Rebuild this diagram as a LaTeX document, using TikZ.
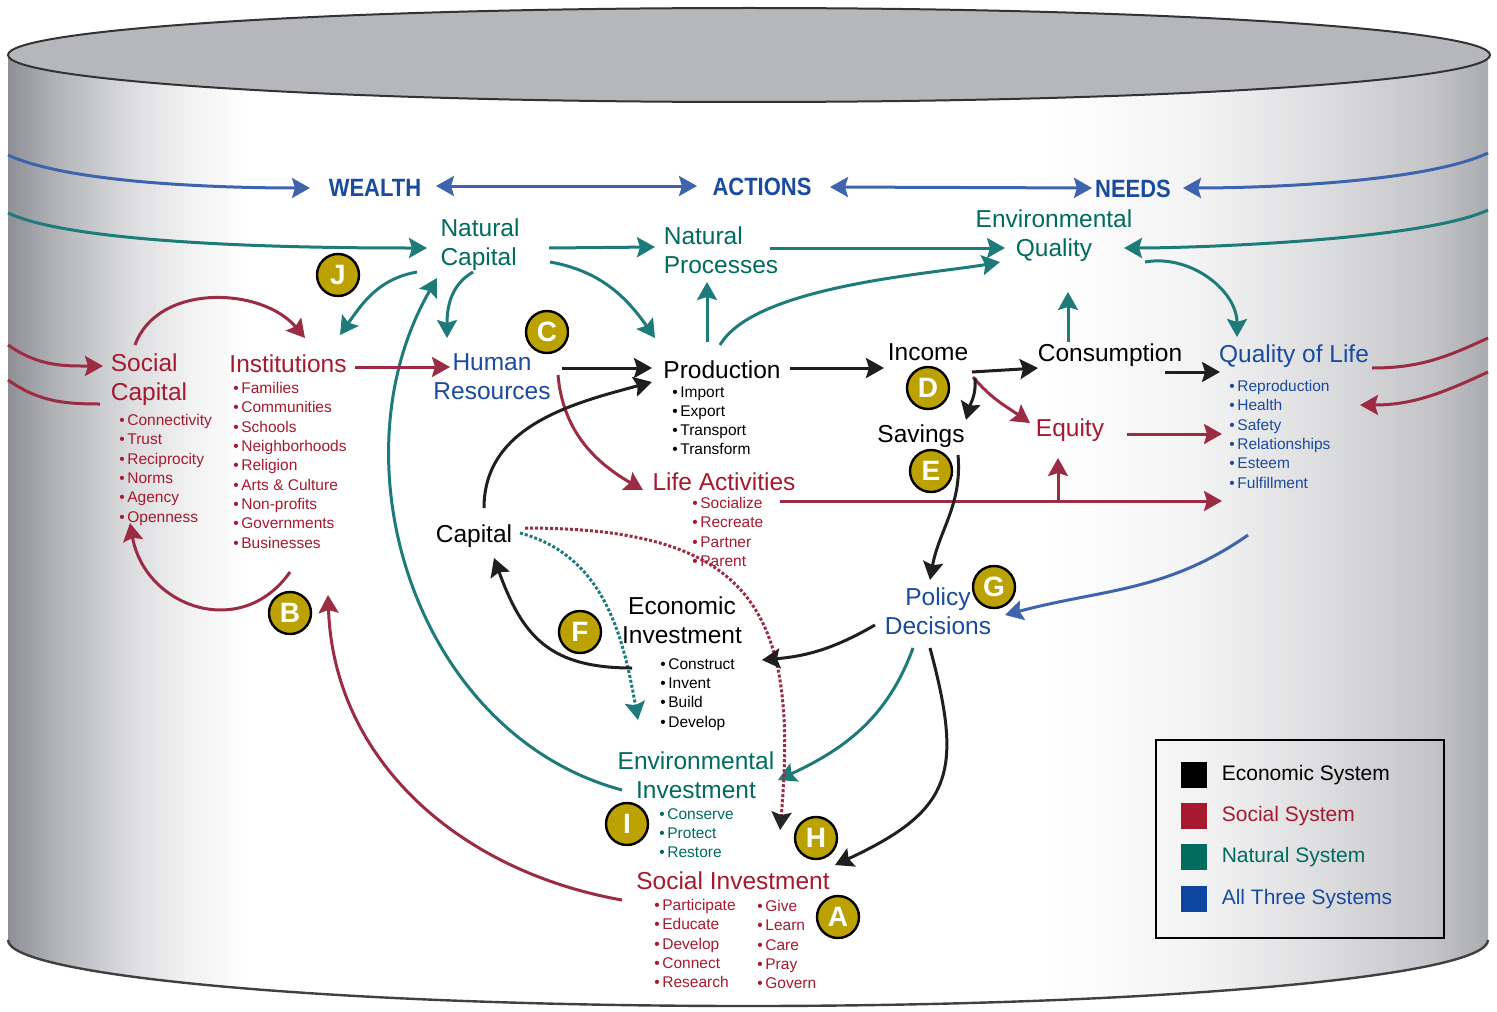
\documentclass[tikz,border=0pt]{standalone}
\usepackage{fontspec}
\usepackage{graphicx}
\setmainfont{Liberation Sans}
\usetikzlibrary{arrows.meta,calc,positioning}

\definecolor{socred}{HTML}{A6192E}
\definecolor{socline}{HTML}{9B2C43}
\definecolor{natgreen}{HTML}{006B5F}
\definecolor{natline}{HTML}{1D7B7A}
\definecolor{allblue}{HTML}{1A4B9E}
\definecolor{allline}{HTML}{3E64AE}
\definecolor{keyblue}{HTML}{0D45A0}
\definecolor{badgegold}{HTML}{BBA200}
\definecolor{drumtop}{HTML}{B6B7BB}
\definecolor{drumL}{HTML}{8F9197}
\definecolor{drumR}{HTML}{A9AAAF}

\newcommand{\blt}{\textbullet\,}

\tikzset{
  >={Stealth[length=9pt,width=10pt,inset=1.5pt]},
  flow/.style={line width=1.5pt, ->},
  eco/.style={flow, draw=black!88},
  soc/.style={flow, draw=socline},
  nat/.style={flow, draw=natline},
  allsys/.style={flow, draw=allline},
  wrapsoc/.style={line width=1.5pt, draw=socline},
  twoway/.style={<->},
  dots/.style={dash pattern=on 1.5pt off 1pt},
  lbl/.style={inner sep=0pt, font=\fontsize{12.25}{14.5}\selectfont, align=center},
  lst/.style={inner sep=0pt, anchor=north west, align=left, font=\fontsize{7.75}{9.65}\selectfont},
  hdr/.style={inner sep=0pt, text=allblue, font=\fontsize{12.5}{14}\selectfont\bfseries},
  badge/.style={circle, draw=black, line width=1.2pt, fill=badgegold, text=white, minimum size=21pt, inner sep=0pt, font=\fontsize{14}{14}\selectfont\bfseries},
  key/.style={minimum size=13pt, inner sep=0pt},
  keytxt/.style={inner sep=0pt, anchor=west, font=\fontsize{10.5}{12}\selectfont},
}

\begin{document}
\begin{tikzpicture}[x=0.5pt, y=-0.5pt]
  \useasboundingbox (0,0) rectangle (1497,1011);
  \fill[white] (0,0) rectangle (1497,1011);

  % the drum, shaded in thin strips
  \begin{scope}
    \clip (8,55) -- (8,940) arc[start angle=180, end angle=360, x radius=370pt, y radius=33pt] -- (1488,55) -- cycle;
    \foreach \x in {8,12,...,252}{
      \pgfmathtruncatemacro{\p}{(\x<60) ? 100-(\x-8)/52*34 : ((\x<130) ? 66-(\x-60)/70*35 : ((\x<190) ? 31-(\x-130)/60*19 : max(0,12-(\x-190)/60*12)))}
      \fill[drumL!\p!white] (\x,40) rectangle (\x+5,1010);
    }
    \foreach \x in {1040,1044,...,1488}{
      \pgfmathtruncatemacro{\q}{(\x>1430) ? 69+(\x-1430)/58*31 : ((\x>1320) ? 40+(\x-1320)/110*29 : ((\x>1200) ? 15+(\x-1200)/120*25 : (\x-1040)/160*15))}
      \fill[drumR!\q!white] (\x,40) rectangle (\x+5,1010);
    }
  \end{scope}
  \draw[black!75, line width=1.2pt] (8,940) arc[start angle=180, end angle=360, x radius=370pt, y radius=33pt];
  \filldraw[fill=drumtop, draw=black!80, line width=1pt] (749,55) ellipse [x radius=370.5pt, y radius=23.5pt];

  % headings
  \node[hdr] (wealth) at (375,188) {\scalebox{0.88}[1]{WEALTH}};
  \node[hdr] (actions) at (762,187) {\scalebox{0.88}[1]{ACTIONS}};
  \node[hdr] (needs) at (1133,189) {\scalebox{0.88}[1]{NEEDS}};

  % stocks and flows
  \node[lbl, text=natgreen, align=left] (nc) at (480,245) {Natural\\Capital};
  \node[lbl, text=natgreen, align=left] (np) at (721,250) {Natural\\Processes};
  \node[lbl, text=natgreen] (eq) at (1054,236) {Environmental\\Quality};
  \node[lbl, text=socred, align=left] (sc) at (149,380) {Social\\Capital};
  \node[lbl, text=socred] (inst) at (288,364) {Institutions};
  \node[lbl, text=allblue] (hr) at (492,377) {Human\\Resources};
  \node[lbl] (prod) at (722,370) {Production};
  \node[lbl] (inc) at (928,352) {Income};
  \node[lbl] (cons) at (1110,355) {Consumption};
  \node[lbl, text=allblue] (qol) at (1294,356) {Quality of Life};
  \node[lbl] (sav) at (921,436) {Savings};
  \node[lbl, text=socred] (equ) at (1070,430) {Equity};
  \node[lbl, text=socred] (la) at (724,482) {Life Activities};
  \node[lbl] (cap) at (474,536) {Capital};
  \node[lbl] (ei) at (682,620) {Economic\\Investment};
  \node[lbl, text=allblue] (pd) at (938,611) {Policy\\Decisions};
  \node[lbl, text=natgreen] (env) at (696,775) {Environmental\\Investment};
  \node[lbl, text=socred] (si) at (733,881) {Social Investment};

  % bullet lists
  \node[lst, text=socred] (sclist) at (119,414) {\blt Connectivity\\\blt Trust\\\blt Reciprocity\\\blt Norms\\\blt Agency\\\blt Openness};
  \node[lst, text=socred] (inlist) at (233,382) {\blt Families\\\blt Communities\\\blt Schools\\\blt Neighborhoods\\\blt Religion\\\blt Arts \& Culture\\\blt Non-profits\\\blt Governments\\\blt Businesses};
  \node[lst] (prlist) at (672,386) {\blt Import\\\blt Export\\\blt Transport\\\blt Transform};
  \node[lst, text=allblue] (qllist) at (1229,380) {\blt Reproduction\\\blt Health\\\blt Safety\\\blt Relationships\\\blt Esteem\\\blt Fulfillment};
  \node[lst, text=socred] (lalist) at (692,497) {\blt Socialize\\\blt Recreate\\\blt Partner\\\blt Parent};
  \node[lst] (eilist) at (660,658) {\blt Construct\\\blt Invent\\\blt Build\\\blt Develop};
  \node[lst, text=natgreen] (envlist) at (659,808) {\blt Conserve\\\blt Protect\\\blt Restore};
  \node[lst, text=socred] (silistA) at (654,899) {\blt Participate\\\blt Educate\\\blt Develop\\\blt Connect\\\blt Research};
  \node[lst, text=socred] (silistB) at (757,900) {\blt Give\\\blt Learn\\\blt Care\\\blt Pray\\\blt Govern};

  % where the flows leave and enter the drum
  \coordinate (lwB) at (8,155);
  \coordinate (rwB) at (1488,153);
  \coordinate (lwT) at (8,213);
  \coordinate (rwT) at (1488,210);
  \coordinate (lwR1) at (8,345);
  \coordinate (lwR2) at (8,380);
  \coordinate (rwR1) at (1488,338);
  \coordinate (rwR2) at (1488,372);

  % all three systems
  \draw[allsys] (lwB) to[out=-25,in=180,looseness=0.6] ($(wealth)+(-65,0)$);
  \draw[allsys, twoway] ($(wealth)+(61,-2)$) -- ($(actions)+(-65,-1)$);
  \draw[allsys, twoway] ($(actions)+(68,0)$) -- ($(needs)+(-41,-1)$);
  \draw[allsys] (rwB) to[out=205,in=0,looseness=0.6] ($(needs)+(50,-1)$);
  \draw[allsys] ($(qol)+(-46,179)$) to[out=215,in=15] ($(pd)+(67,4)$);

  % natural system
  \draw[nat] (lwT) to[out=-25,in=180,looseness=0.5] ($(nc)+(-53,3)$);
  \draw[nat] ($(nc)+(69,3)$) -- ($(np)+(-66,-3)$);
  \draw[nat] ($(np)+(49,-2)$) -- ($(eq)+(-49,12)$);
  \draw[nat] (rwT) to[out=205,in=0,looseness=0.5] ($(eq)+(70,12)$);
  \draw[nat] ($(nc)+(70,17)$) to[out=-10,in=125] ($(prod)+(-67,-32)$);
  \draw[nat] ($(nc)+(-7,27)$) to[out=210,in=90] ($(hr)+(-45,-39)$);
  \draw[nat] ($(nc)+(-63,27)$) to[out=190,in=55] ($(inst)+(52,-29)$);
  \draw[nat] ($(env)+(-74,15)$) to[out=165,in=240] ($(nc)+(-43,33)$);
  \draw[nat] ($(prod)+(-15,-28)$) -- ($(np)+(-14,32)$);
  \draw[nat] ($(prod)+(-2,-25)$) to[out=60,in=190,looseness=0.6] ($(eq)+(-54,26)$);
  \draw[nat] ($(cons)+(-42,-13)$) -- ($(eq)+(14,56)$);
  \draw[nat] ($(eq)+(91,26)$) to[out=10,in=90] ($(qol)+(-57,-19)$);
  \draw[nat] ($(pd)+(-25,37)$) to[out=250,in=25] ($(env)+(82,5)$);
  \draw[nat, dots] ($(cap)+(46,-3)$) to[out=-15,in=100] ($(ei)+(-44,100)$);

  % social system
  \draw[soc] (lwR1) to[out=-35,in=180] ($(sc)+(-46,-14)$);
  \draw[wrapsoc] (lwR2) to[out=-35,in=180] ($(sc)+(-49,24)$);
  \draw[wrapsoc] ($(qol)+(78,12)$) to[out=0,in=205] (rwR1);
  \draw[soc] (rwR2) to[out=205,in=0] ($(qol)+(66,49)$);
  \draw[soc] ($(sc)+(-14,-35)$) to[out=70,in=130] ($(inst)+(17,-26)$);
  \draw[soc] ($(inst)+(2,208)$) to[out=235,in=-80,looseness=1.3] ($(sc)+(-19,143)$);
  \draw[soc] ($(inst)+(67,3)$) -- ($(hr)+(-42,-10)$);
  \draw[soc] ($(hr)+(66,-2)$) to[out=-85,in=150] ($(la)+(-81,8)$);
  \draw[soc] ($(inc)+(45,25)$) to[out=-50,in=145] ($(equ)+(-40,-7)$);
  \draw[soc] ($(equ)+(57,4)$) -- ($(qol)+(-72,78)$);
  \draw[soc] ($(la)+(56,19)$) -- ($(qol)+(-72,145)$);
  \draw[soc] ($(equ)+(-12,71)$) -- ($(equ)+(-12,28)$);
  \draw[soc] ($(si)+(-111,19)$) to[out=170,in=-88] ($(inst)+(40,231)$);
  \draw[soc, dots, -{Stealth[length=9pt,width=10pt,inset=1.5pt,color=black!85]}] ($(cap)+(51,-8)$) to[out=0,in=85,looseness=1.45] ($(si)+(47,-51)$);

  % economic system
  \draw[eco] ($(hr)+(70,-9)$) -- ($(prod)+(-70,-2)$);
  \draw[eco] ($(cap)+(10,-28)$) to[out=90,in=195] ($(prod)+(-70,12)$);
  \draw[eco] ($(prod)+(68,-2)$) -- ($(inc)+(-44,16)$);
  \draw[eco] ($(inc)+(44,20)$) -- ($(cons)+(-72,13)$);
  \draw[eco] ($(cons)+(55,17)$) -- ($(qol)+(-74,16)$);
  \draw[eco] ($(inc)+(47,26)$) to[out=-85,in=75] ($(sav)+(45,-16)$);
  \draw[eco] ($(sav)+(37,19)$) to[out=-85,in=80] ($(pd)+(-8,-31)$);
  \draw[eco] ($(pd)+(-63,14)$) to[out=210,in=5] ($(ei)+(80,40)$);
  \draw[eco] ($(ei)+(-50,48)$) to[out=180,in=-70,looseness=1.2] ($(cap)+(20,22)$);
  \draw[eco] ($(pd)+(-8,37)$) to[out=-75,in=25,looseness=1.4] ($(si)+(102,-16)$);

  % badges
  \node[badge] (bJ) at (338,275) {J};
  \node[badge] (bC) at (547,332) {C};
  \node[badge] (bB) at (290,613) {B};
  \node[badge] (bD) at (928,388) {D};
  \node[badge] (bE) at (931,471) {E};
  \node[badge] (bG) at (994,587) {G};
  \node[badge] (bF) at (580,632) {F};
  \node[badge] (bI) at (627,824) {I};
  \node[badge] (bH) at (816,838) {H};
  \node[badge] (bA) at (838,917) {A};

  % legend
  \node[draw, line width=1.2pt, minimum width=144pt, minimum height=99pt, inner sep=0pt] (legend) at (1300,839) {};
  \node[key, fill=black] (kE) at (1194,775) {};
  \node[key, fill=socred] (kS) at (1194,816) {};
  \node[key, fill=natgreen] (kN) at (1194,857) {};
  \node[key, fill=keyblue] (kA) at (1194,899) {};
  \node[keytxt, right=7pt of kE] (tE) {Economic System};
  \node[keytxt, right=7pt of kS, text=socred] (tS) {Social System};
  \node[keytxt, right=7pt of kN, text=natgreen] (tN) {Natural System};
  \node[keytxt, right=7pt of kA, text=allblue] (tA) {All Three Systems};
\end{tikzpicture}
\end{document}
